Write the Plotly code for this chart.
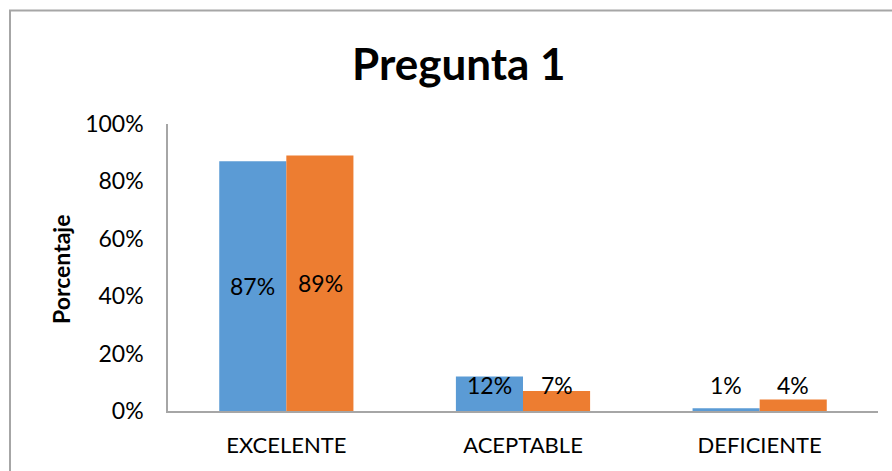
import plotly.graph_objects as go

categories = ["EXCELENTE", "ACEPTABLE", "DEFICIENTE"]
serie_1 = [0.87, 0.12, 0.01]
serie_2 = [0.89, 0.07, 0.04]
tick_vals = [0, 0.2, 0.4, 0.6, 0.8, 1.0]
tick_text = ["0%", "20%", "40%", "60%", "80%", "100%"]

BLUE = "#5B9BD5"
ORANGE = "#ED7D31"
FONT = "Lato, Liberation Sans, sans-serif"

W, H = 892, 471
ML, MR, MT, MB = 168, 14, 124, 60
PW, PH = W - ML - MR, H - MT - MB

fig = go.Figure()
fig.add_trace(go.Bar(x=categories, y=serie_1, marker=dict(color=BLUE, line=dict(width=0)),
                     offsetgroup="a", name="Serie 1"))
fig.add_trace(go.Bar(x=categories, y=serie_2, marker=dict(color=ORANGE, line=dict(width=0)),
                     offsetgroup="b", name="Serie 2"))

# value labels: centered in the bar, but kept clear of the baseline for short bars
annotations = []
for i, cat in enumerate(categories):
    for vals, shift in ((serie_1, -0.1425), (serie_2, 0.1425)):
        v = vals[i]
        annotations.append(dict(
            x=i + shift, y=max(v / 2, 0.09), xref="x", yref="y",
            text=f"{round(v * 100)}%", showarrow=False,
            font=dict(family=FONT, size=23, color="#000000"),
        ))

annotations.append(dict(
    x=(459 - ML) / PW, y=1 + (MT - 63) / PH, xref="paper", yref="paper",
    xanchor="center", yanchor="middle",
    text="<b>Pregunta 1</b>", showarrow=False,
    font=dict(family=FONT, size=44, color="#000000"),
))
annotations.append(dict(
    x=(61 - ML) / PW, y=(411 - 270) / PH, xref="paper", yref="paper",
    xanchor="center", yanchor="middle",
    text="<b>Porcentaje</b>", showarrow=False, textangle=-90,
    font=dict(family=FONT, size=23, color="#000000"),
))

fig.update_layout(
    width=W, height=H,
    margin=dict(l=ML, r=MR, t=MT, b=MB),
    paper_bgcolor="white", plot_bgcolor="white",
    barmode="group", bargap=0.433, bargroupgap=0,
    showlegend=False,
    annotations=annotations,
    shapes=[dict(
        type="rect", xref="paper", yref="paper",
        x0=(10 - ML) / PW, x1=(W + 20 - ML) / PW,
        y0=-(H + 20 - 411) / PH, y1=1 + (MT - 10.5) / PH,
        line=dict(color="#A6A6A6", width=2), fillcolor="rgba(0,0,0,0)", layer="below",
    )],
    xaxis=dict(
        showline=True, linecolor="#A6A6A6", linewidth=1.5, showgrid=False,
        ticks="", tickfont=dict(family=FONT, size=22, color="#000000"), ticklabelstandoff=14,
    ),
    yaxis=dict(
        range=[0, 1], tickvals=tick_vals, ticktext=tick_text,
        showline=True, linecolor="#A6A6A6", linewidth=1.5, showgrid=False, zeroline=False,
        ticks="", tickfont=dict(family=FONT, size=23, color="#000000"), ticklabelstandoff=18,
    ),
)

fig.write_html("out.html")
